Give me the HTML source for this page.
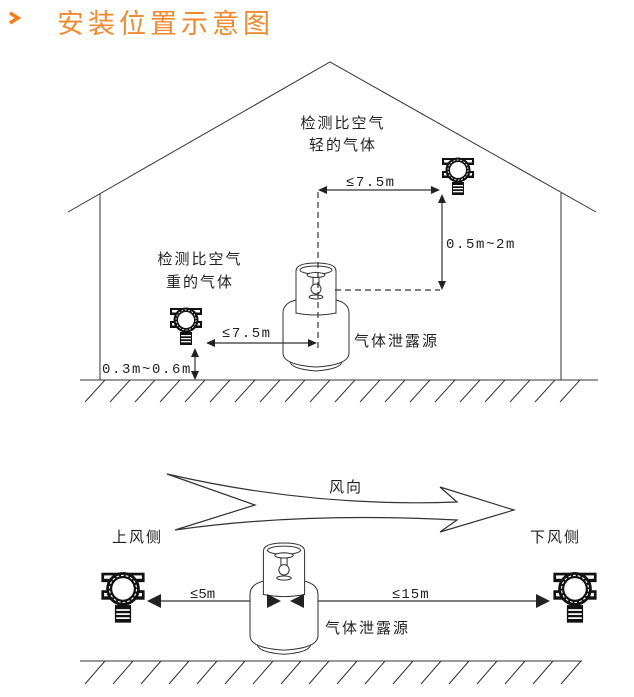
<!DOCTYPE html>
<html><head><meta charset="utf-8"><style>
body{margin:0;background:#fff;}
svg text{font-family:"Liberation Sans","Noto Sans CJK SC",sans-serif;fill:#222;}
svg text.m{font-family:"Liberation Mono","Noto Sans CJK SC",monospace;}
</style></head><body>
<svg width="634" height="692" viewBox="0 0 634 692" xmlns="http://www.w3.org/2000/svg">
<defs>
<g id="det">
 <rect x="-16" y="-18" width="32" height="7" fill="#111"/>
 <rect x="-16" y="-5" width="32" height="7" fill="#111"/>
 <rect x="-14" y="-16" width="28" height="2.5" fill="#fff"/>
 <rect x="-14" y="-3" width="28" height="2.5" fill="#fff"/>
 <circle cx="0" cy="-6" r="12.5" fill="#111"/>
 <circle cx="0" cy="-6" r="10" fill="none" stroke="#fff" stroke-width="0.8" stroke-dasharray="2,1.5"/>
 <circle cx="0" cy="-6" r="8" fill="#fff"/>
 <rect x="-6" y="6" width="12" height="13" fill="#111"/>
 <rect x="-5" y="9" width="10" height="1.3" fill="#fff"/>
 <rect x="-5" y="12" width="10" height="1.3" fill="#fff"/>
 <rect x="-5" y="15" width="10" height="1.3" fill="#fff"/>
</g>
<g id="cyl" fill="#fff" stroke="#333" stroke-width="1">
 <path d="M-26,66 Q-26,74 0,76 Q26,74 26,66 Z"/>
 <path d="M-33,18 Q-33,6 -14,4 L14,4 Q33,6 33,18 L33,58 Q33,70 0,72 Q-33,70 -33,58 Z"/>
 <path d="M-20,-24 Q-20,-32 0,-32 Q20,-32 20,-24 L20,18 Q0,22 -20,18 Z"/>
 <ellipse cx="0" cy="-25" rx="16" ry="4"/>
 <ellipse cx="0" cy="-20" rx="9" ry="2.5"/>
 <path d="M-3,-18 L-3,-10 M3,-18 L3,-10"/>
 <circle cx="0" cy="-6" r="5"/>
 <ellipse cx="0" cy="2" rx="7" ry="2"/>
</g>
</defs>
<path d="M10,13 L18,18 L10,23" fill="none" stroke="#ef7f1a" stroke-width="3.5"/>
<text x="57" y="33" font-size="27" style="fill:#f08a30" letter-spacing="4">安装位置示意图</text>

<g stroke="#333" stroke-width="1" fill="none">
<path d="M68,212 L330,62 L596,212"/>
<path d="M100,194 L100,380 M561,193 L561,380"/>
<path d="M80,380 L598,380"/>
<path d="M80,661 L582,661"/>
</g>
<g stroke="#333" stroke-width="1">
<path d="M105,380 L85,402 M130,380 L110,402 M155,380 L135,402 M180,380 L160,402 M205,380 L185,402 M230,380 L210,402 M255,380 L235,402 M280,380 L260,402 M305,380 L285,402 M330,380 L310,402 M355,380 L335,402 M380,380 L360,402 M405,380 L385,402 M430,380 L410,402 M455,380 L435,402 M480,380 L460,402 M505,380 L485,402 M530,380 L510,402 M555,380 L535,402 M580,380 L560,402"/>
<path d="M105,661 L85,684 M133,661 L113,684 M161,661 L141,684 M189,661 L169,684 M217,661 L197,684 M245,661 L225,684 M273,661 L253,684 M301,661 L281,684 M329,661 L309,684 M357,661 L337,684 M385,661 L365,684 M413,661 L393,684 M441,661 L421,684 M469,661 L449,684 M497,661 L477,684 M525,661 L505,684 M553,661 L533,684 M581,661 L561,684"/>
</g>

<text x="343" y="128" font-size="15" text-anchor="middle" letter-spacing="2">检测比空气</text>
<text x="343" y="150" font-size="15" text-anchor="middle" letter-spacing="2">轻的气体</text>
<text x="200" y="264" font-size="15" text-anchor="middle" letter-spacing="2">检测比空气</text>
<text x="200" y="287" font-size="15" text-anchor="middle" letter-spacing="2">重的气体</text>

<use href="#det" x="458" y="176"/>
<use href="#det" x="186" y="326"/>

<use href="#cyl" x="316" y="295"/>

<g stroke="#333" stroke-width="1.2" fill="none" stroke-dasharray="6,4">
<path d="M318,192 L318,350"/>
<path d="M335,290 L440,290"/>
<path d="M286,590 L286,622"/>
</g>
<g stroke="#333" stroke-width="1.2">
<path d="M325,190 L434,190"/>
<path d="M442,200 L442,282"/>
<path d="M213,343 L310,343"/>
<path d="M195,355 L195,374"/>
<path d="M160,601 L540,601"/>
</g>
<g fill="#222">
<path d="M318,190 L327,186 L327,194 Z"/>
<path d="M440,190 L431,186 L431,194 Z"/>
<path d="M442,194 L438,203 L446,203 Z"/>
<path d="M442,290 L438,281 L446,281 Z"/>
<path d="M206,343 L215,339 L215,347 Z"/>
<path d="M317,343 L308,339 L308,347 Z"/>
<path d="M195,348 L191,357 L199,357 Z"/>
<path d="M195,380 L191,371 L199,371 Z"/>
</g>
<text class="m" x="346" y="186" font-size="14" letter-spacing="1.5">≤7.5m</text>
<text class="m" x="446" y="248" font-size="14" letter-spacing="1.6">0.5m~2m</text>
<text class="m" x="222" y="337" font-size="14" letter-spacing="1.5">≤7.5m</text>
<text class="m" x="102" y="373" font-size="14" letter-spacing="1.6">0.3m~0.6m</text>
<text x="354" y="346" font-size="15" letter-spacing="2">气体泄露源</text>

<path d="M167,474 L255,505 L175,530 C280,515 380,516 457,520 L440,532 L514,510 L440,487 L457,502 C380,505 280,500 167,474 Z" fill="#fff" stroke="#333" stroke-width="1.2"/>
<text x="346" y="492" font-size="15" text-anchor="middle" letter-spacing="2">风向</text>
<text x="112" y="542" font-size="15" letter-spacing="2">上风侧</text>
<text x="530" y="542" font-size="15" letter-spacing="2">下风侧</text>

<use href="#cyl" x="284" y="576" transform="translate(284,576) scale(1.03) translate(-284,-576)"/>
<use href="#det" x="123" y="597" transform="translate(123,597) scale(1.35) translate(-123,-597)"/>
<use href="#det" x="575" y="597" transform="translate(575,597) scale(1.35) translate(-575,-597)"/>
<g fill="#222">
<path d="M147,601 L161,594 L161,608 Z"/>
<path d="M281,601 L267,594 L267,608 Z"/>
<path d="M290,601 L304,594 L304,608 Z"/>
<path d="M550,601 L536,594 L536,608 Z"/>
</g>
<text class="m" x="190" y="598" font-size="14">≤5m</text>
<text class="m" x="392" y="598" font-size="14" letter-spacing="1">≤15m</text>
<text x="325" y="633" font-size="15" letter-spacing="2">气体泄露源</text>
</svg>
</body></html>
